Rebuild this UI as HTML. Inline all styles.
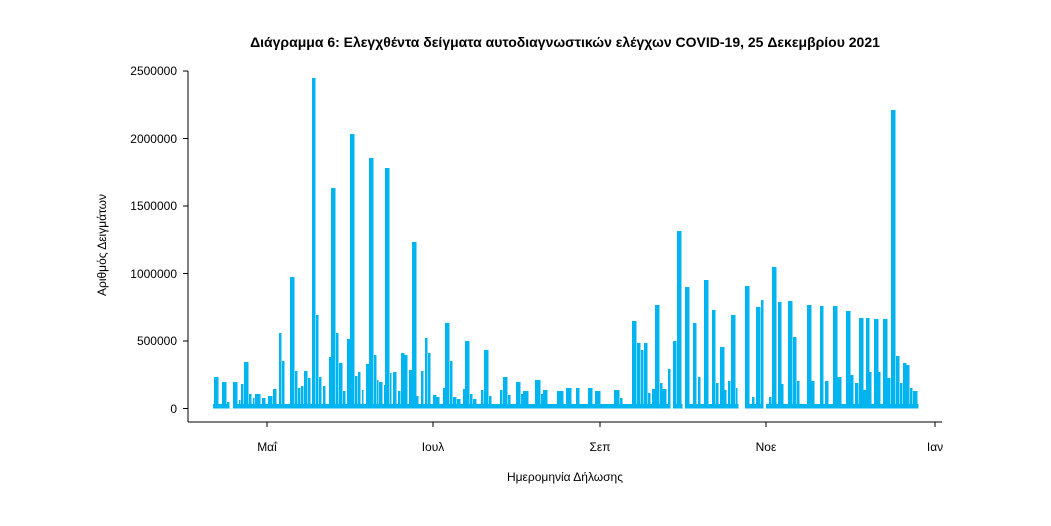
<!DOCTYPE html>
<html><head><meta charset="utf-8"><style>
body{margin:0;background:#fff;}
svg text{font-family:"Liberation Sans","DejaVu Sans",sans-serif;fill:#000;}
</style></head><body>
<svg id="s" width="1051" height="521" xmlns="http://www.w3.org/2000/svg">
<rect width="1051" height="521" fill="#fff"/>
<text x="565" y="47" text-anchor="middle" font-size="14" font-weight="bold">Διάγραμμα 6: Ελεγχθέντα δείγματα αυτοδιαγνωστικών ελέγχων COVID-19, 25 Δεκεμβρίου 2021</text>
<g stroke="#000" stroke-width="1">
<line x1="188" y1="71" x2="188" y2="422"/>
<line x1="188" y1="422" x2="942" y2="422"/>
<line x1="183" y1="408.5" x2="188" y2="408.5"/>
<line x1="183" y1="341" x2="188" y2="341"/>
<line x1="183" y1="273.5" x2="188" y2="273.5"/>
<line x1="183" y1="206" x2="188" y2="206"/>
<line x1="183" y1="138.5" x2="188" y2="138.5"/>
<line x1="183" y1="71" x2="188" y2="71"/>
<line x1="267" y1="422" x2="267" y2="427"/>
<line x1="433" y1="422" x2="433" y2="427"/>
<line x1="600" y1="422" x2="600" y2="427"/>
<line x1="766" y1="422" x2="766" y2="427"/>
<line x1="935" y1="422" x2="935" y2="427"/>
</g>
<g font-size="12" text-anchor="end">
<text x="177" y="413">0</text>
<text x="177" y="345">500000</text>
<text x="177" y="278">1000000</text>
<text x="177" y="210">1500000</text>
<text x="177" y="143">2000000</text>
<text x="177" y="75">2500000</text>
</g>
<g font-size="12" text-anchor="middle">
<text x="267" y="451">Μαΐ</text>
<text x="433" y="451">Ιουλ</text>
<text x="600" y="451">Σεπ</text>
<text x="766" y="451">Νοε</text>
<text x="935" y="451">Ιαν</text>
<text x="565" y="481">Ημερομηνία Δήλωσης</text>
<text transform="translate(106,245) rotate(-90)">Αριθμός Δειγμάτων</text>
</g>
<g id="bars" fill="#00b4ef"></g>
</svg>
<script>
var segs=[[213,228,404],[233,669,404],[673,682,404],[685,738,404],[745,763,404],[766,918,404],
[214,218,377],[220,221,405],[222,226,382],[227,229,402],[233,237,382],[239,240,400],[241,243,384],[244,248,362],[249,251,394],[253,254,398],[255,260,394],[262,265,398],[268,272,396],[273,276,389],[279,281,333],[282,284,361],[290,294,277],[295,297,371],[298,300,388],[301,303,386],[304,307,371],[308,310,378],[312,315,78],[316,318,315],[319,321,377],[323,325,386],[329,332,357],[331,335,188],[336,338,333],[339,342,363],[343,345,391],[347,350,339],[350,354,134],[355,357,376],[358,360,372],[362,363,390],[366,369,364],[369,373,158],[374,376,355],[377,378,380],[379,382,382],[384,386,385],[385,389,168],[390,391,373],[393,396,372],[398,400,391],[401,404,353],[404,407,355],[409,412,370],[412,416,242],[416,418,396],[421,423,371],[425,427,338],[428,430,353],[433,436,395],[436,439,397],
[443,445,388],[445,449,323],[450,452,361],[453,456,397],[457,460,399],[463,466,389],[465,469,341],[470,472,394],[473,476,399],[481,483,390],[484,488,350],[489,491,396],[500,502,390],[503,507,377],[508,510,395],[516,520,382],[521,523,394],[523,528,391],[535,540,380],[541,543,394],[543,547,390],[557,563,391],[566,571,388],[576,579,388],[588,592,388],[595,600,391],[614,619,390],[620,622,398],[632,636,321],[637,640,343],[641,643,350],[644,647,343],[648,650,393],[652,655,389],[655,659,305],[660,662,383],[662,666,389],[668,670,369],
[673,676,341],[677,681,231],[685,689,287],[693,696,323],[698,700,377],[704,708,280],[712,715,310],[716,718,383],[720,724,347],[724,726,390],[728,730,381],[731,735,315],[736,737,388],[745,749,286],[752,754,397],[756,760,307],[761,763,300],[769,771,397],[772,776,267],[778,781,302],[781,783,384],[788,792,301],[793,796,337],[797,799,381],[807,811,305],[811,814,381],[820,823,306],[825,828,381],[833,837,306],[837,841,377],[846,850,311],[850,853,375],[855,858,383],[859,863,318],[863,866,390],[866,869,318],[869,871,372],[874,878,319],[877,880,372],[883,887,319],[887,890,378],[891,895,110],[896,899,356],[900,902,383],[903,906,363],[906,909,365],[910,912,388],[913,917,391]];
var g=document.getElementById('bars'),h='';
segs.forEach(function(s){h+='<rect x="'+s[0]+'" y="'+s[2]+'" width="'+(s[1]-s[0]+0.5)+'" height="'+(408.5-s[2])+'"/>';});
g.innerHTML=h;
</script>
</body></html>
